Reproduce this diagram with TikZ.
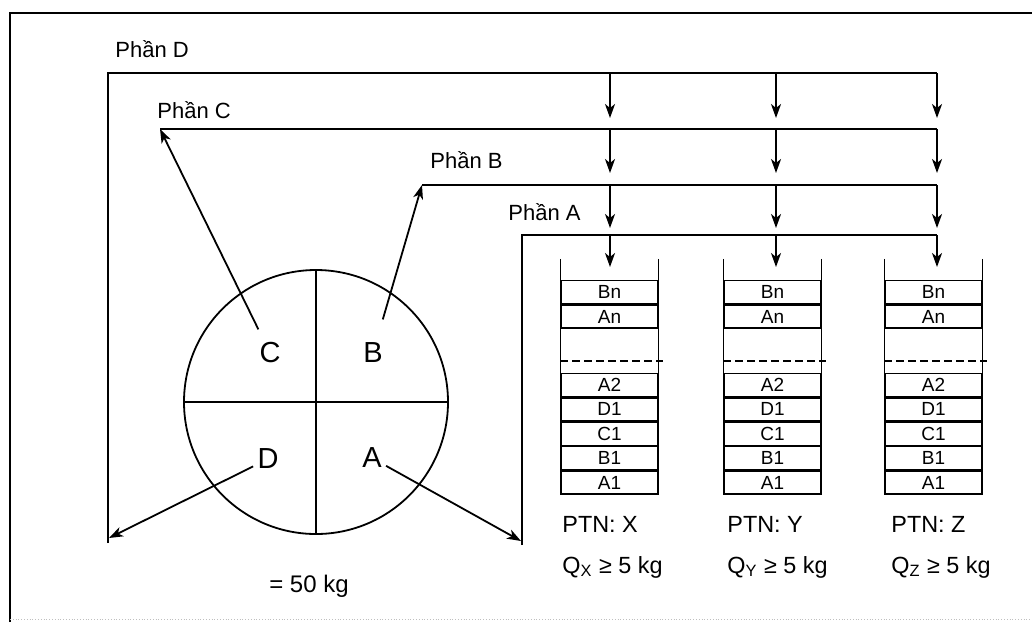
\documentclass[tikz,border=0pt]{standalone}
\usepackage{fontspec}
\setmainfont{Liberation Sans}
\usetikzlibrary{arrows.meta,positioning}
\tikzset{
  line/.style={line width=0.9pt},
  arrow/.style={line,-{Stealth[length=7pt,width=5pt,inset=2pt]}},
  stack/.style={line width=0.7pt},
  cell/.style={draw,stack,minimum width=48.5pt,minimum height=11.5pt,inner sep=0pt,
    font=\fontsize{9.5}{10}\selectfont},
  partlabel/.style={anchor=base west,inner sep=0pt,font=\fontsize{11}{13}\selectfont},
  sector/.style={inner sep=2pt,font=\fontsize{14.5}{17}\selectfont},
  lab/.style={anchor=base west,inner sep=0pt,font=\fontsize{11.7}{14}\selectfont}
}
\begin{document}
\begin{tikzpicture}[x=0.5pt,y=-0.5pt,node distance=0pt]
  \useasboundingbox (0,0) rectangle (1032,622);
  \draw[line] (10,622) -- (10,13) -- (1032,13);
  \draw[black!25,densely dotted] (10,619) -- (1032,619);

  \node[draw,line,circle,minimum size=132pt,inner sep=0pt] (disc) at (316,402) {};
  \draw[line] (disc.north) -- (disc.south);
  \draw[line] (disc.west) -- (disc.east);
  \node[sector] (secC) at (270,353) {C};
  \node[sector] (secB) at (373,353) {B};
  \node[sector] (secD) at (268,459) {D};
  \node[sector] (secA) at (372,458) {A};
  \node[lab,anchor=base,font=\fontsize{12}{14}\selectfont] (total) at (309,592) {= 50 kg};

  \node[partlabel] (partD) at (115,57) {Phần D};
  \node[partlabel] (partC) at (157,118) {Phần C};
  \node[partlabel] (partB) at (430,168) {Phần B};
  \node[partlabel] (partA) at (508,220) {Phần A};

  \coordinate (footD) at (108,543);
  \coordinate (tipD) at (109,538);
  \coordinate (endD) at (937,73);
  \coordinate (tipC) at (160,129);
  \coordinate (endC) at (937,129);
  \coordinate (tipB) at (422,185);
  \coordinate (endB) at (937,185);
  \coordinate (footA) at (522,545);
  \coordinate (tipA) at (521,541);
  \coordinate (endA) at (937,235);

  \draw[line] (footD) |- (endD);
  \draw[arrow] (secD) -- (tipD);
  \draw[line] (tipC) -- (endC);
  \draw[arrow,shorten <=5pt] (secC) -- (tipC);
  \draw[line] (tipB) -- (endB);
  \draw[arrow,shorten <=10pt] (secB) -- (tipB);
  \draw[line] (footA) |- (endA);
  \draw[arrow] (secA) -- (tipA);

  \foreach \bus/\ytop/\ybot in {D/73/118,C/129/173,B/185/228,A/235/267}{
    \foreach \s/\xc in {X/610,Y/776,Z/937}{
      \coordinate (\bus\s top) at (\xc,\ytop);
      \coordinate (\bus\s bot) at (\xc,\ybot);
      \draw[arrow] (\bus\s top) -- (\bus\s bot);
    }
  }

  \foreach \s/\xc/\xl in {X/609.5/562,Y/772.5/727,Z/933.5/891}{
    \node[cell] (\s-A1) at (\xc,482.5) {A1};
    \node[cell,above=of \s-A1] (\s-B1) {B1};
    \node[cell,above=of \s-B1] (\s-C1) {C1};
    \node[cell,above=of \s-C1] (\s-D1) {D1};
    \node[cell,above=of \s-D1] (\s-A2) {A2};
    \node[cell,above=22pt of \s-A2] (\s-An) {An};
    \node[cell,above=of \s-An] (\s-Bn) {Bn};
    \draw[stack] ([yshift=10.5pt]\s-Bn.north west) -- (\s-Bn.north west)
      ([yshift=10.5pt]\s-Bn.north east) -- (\s-Bn.north east)
      (\s-An.south west) -- (\s-A2.north west)
      (\s-An.south east) -- (\s-A2.north east);
    \draw[line,dash pattern=on 4pt off 2pt] ([yshift=6pt]\s-A2.north west)
      -- ([yshift=6pt,xshift=2pt]\s-A2.north east);
    \node[lab] (ptn\s) at (\xl,532) {PTN: \s};
    \node[lab] (mass\s) at (\xl,573) {Q\textsubscript{\s} ≥ 5 kg};
  }
\end{tikzpicture}
\end{document}
